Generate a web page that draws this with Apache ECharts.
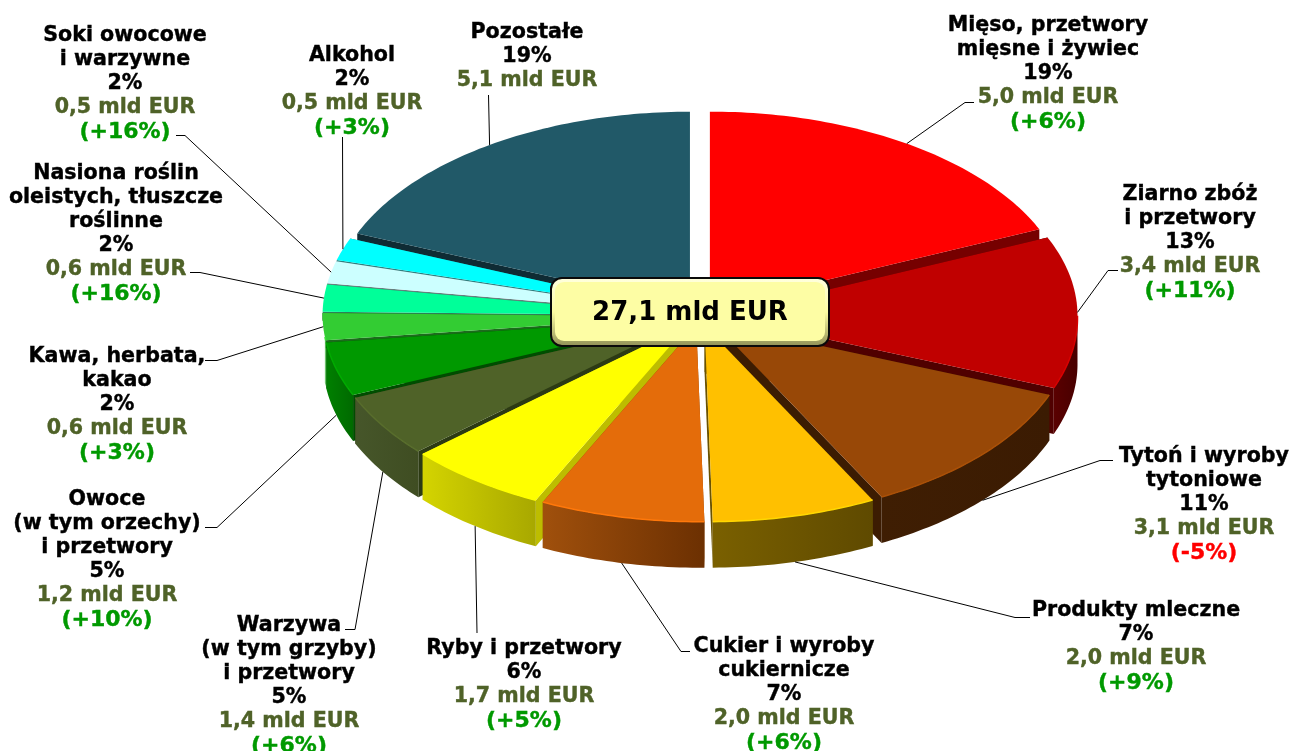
<!DOCTYPE html>
<html>
<head>
<meta charset="utf-8">
<title>Struktura eksportu</title>
<script src="https://cdn.jsdelivr.net/npm/echarts@6/dist/echarts.min.js"></script>
<style>
html, body { margin: 0; padding: 0; background: #fff; }
#chart { width: 1293px; height: 751px; }
</style>
</head>
<body>
<div id="chart"></div>
<script>
// wartosci, kolejnosc zgodnie z ruchem wskazowek zegara od gory
var categories = [
	'Mięso, przetwory\nmięsne i żywiec',
	'Ziarno zbóż\ni przetwory',
	'Tytoń i wyroby\ntytoniowe',
	'Produkty mleczne',
	'Cukier i wyroby\ncukiernicze',
	'Ryby i przetwory',
	'Warzywa\n(w tym grzyby)\ni przetwory',
	'Owoce\n(w tym orzechy)\ni przetwory',
	'Kawa, herbata,\nkakao',
	'Nasiona roślin\noleistych, tłuszcze\nroślinne',
	'Soki owocowe\ni warzywne',
	'Alkohol',
	'Pozostałe'
];
var values = [5.0, 3.4, 3.1, 2.0, 2.0, 1.7, 1.4, 1.2, 0.6, 0.6, 0.5, 0.5, 5.1];
var shares = [19, 13, 11, 7, 7, 6, 5, 5, 2, 2, 2, 2, 19];
var changes = ['+6', '+11', '-5', '+9', '+6', '+5', '+6', '+10', '+3', '+16', '+16', '+3', null];
var totalLabel = '27,1 mld EUR';

// wyglad: gora wycinka, sciana (lewo, prawo), przekroj
var topColors = ['#ff0000', '#c00000', '#984807', '#ffc000', '#e46c0a', '#ffff00', '#4f6228', '#009900', '#33cc33', '#00ff99', '#ccffff', '#00ffff', '#215968'];
var wallLeft = ['#7a0000', '#5a0000', '#3f1e03', '#7a6000', '#a0500c', '#d4d400', '#46562a', '#008000', '#2aa82a', '#00c070', '#99cccc', '#00c0c0', '#132f38'];
var wallRight = ['#7a0000', '#480000', '#3b1b02', '#5f4a00', '#6c3002', '#a8a800', '#3f4d22', '#006a00', '#2aa82a', '#00c070', '#99cccc', '#00c0c0', '#132f38'];
var cutColors = ['#760000', '#500000', '#3c1c02', '#6a5200', '#8a4506', '#bdbd00', '#2c3a14', '#004d00', '#1c6b1c', '#2f7f57', '#667f7f', '#2f7f7f', '#0f2b34'];

// pozycje opisow: srodek, gora tekstu, koniec linii odniesienia
var labelPos = [
	[1048, 14], [1190, 183], [1204, 445], [1136, 599], [784, 635], [524, 637], [289, 614],
	[107, 488], [117, 345], [116, 162], [125, 24], [352, 44], [527, 21]
];
var leaderEnds = [
	[[965, 102.5], [974, 102.5]], [[1108, 270.5], [1118, 270.5]], [[1100, 460.5], [1113, 460.5]],
	[[1015, 617.5], [1030, 617.5]], [[681, 651.5], [690, 651.5]], [[477, 633]], [[355, 629.5], [345, 629.5]],
	[[217, 527.5], [205, 527.5]], [[217, 360.5], [205, 360.5]], [[200, 272.5], [190, 272.5]],
	[[185, 135.5], [176, 135.5]], [[342.5, 137]], [[488.5, 95]]
];

var CX = 700, CY = 316, RX = 359.5, RY = 196, EX = 18, EY = 10, DROP = 46, SHEAR = 4;
var WALL_FROM = 90, WALL_TO = 264, BACK_CUT = 8;
var FONT = '"DejaVu Sans", Verdana, sans-serif';
var FONT_SIZE = 20.6, CHANGE_FONT_SIZE = 22;

var sum = values.reduce(function (a, b) { return a + b; }, 0);

function buildSlices() {
	var acc = 0;
	return values.map(function (v, i) {
		var a0 = acc / sum * 360;
		acc += v;
		var a1 = acc / sum * 360;
		return { index: i, a0: a0, a1: a1, mid: (a0 + a1) / 2 };
	});
}
var slices = buildSlices();

// przod tortu rysowany na koncu
var paintOrder = slices.slice().sort(function (a, b) {
	return Math.abs(b.mid - 180) - Math.abs(a.mid - 180);
}).map(function (s) { return s.index; });

function project(ux, uy, drop) {
	var y = CY + uy;
	var x = CX + ux + (uy > 0 ? SHEAR * uy / RY : 0);
	return [x, y + (drop || 0)];
}

function rimPoint(s, deg, drop) {
	var r = deg * Math.PI / 180, m = s.mid * Math.PI / 180;
	return project(RX * Math.sin(r) + EX * Math.sin(m), -RY * Math.cos(r) - EY * Math.cos(m), drop);
}

function apexPoint(s, drop) {
	var m = s.mid * Math.PI / 180;
	return project(EX * Math.sin(m), -EY * Math.cos(m), drop);
}

function arcPoints(s, from, to, drop) {
	var pts = [];
	var n = Math.max(2, Math.ceil(to - from));
	for (var k = 0; k <= n; k++) {
		pts.push(rimPoint(s, from + (to - from) * k / n, drop));
	}
	return pts;
}

function renderSlice(params, api) {
	var i = api.value(0);
	var s = slices[i];
	var rank = paintOrder.indexOf(i) * 10 + 1;
	var children = [];
	// po lewej z tylu sciany nie widac, zostaje tylko waski przekroj
	var cutDrop = s.mid >= WALL_TO ? BACK_CUT : DROP;

	function cut(deg) {
		children.push({
			type: 'polygon', z2: rank,
			shape: { points: [apexPoint(s, 0), rimPoint(s, deg, 0), rimPoint(s, deg, cutDrop), apexPoint(s, cutDrop)] },
			style: { fill: cutColors[i] }
		});
	}
	cut(s.a0);
	cut(s.a1);

	var w0 = Math.max(s.a0, WALL_FROM), w1 = Math.min(s.a1, WALL_TO);
	if (w1 > w0) {
		var upper = arcPoints(s, w0, w1, 0);
		var lower = arcPoints(s, w0, w1, DROP).reverse();
		children.push({
			type: 'polygon', z2: rank + 1,
			shape: { points: upper.concat(lower) },
			style: {
				// sciana ciemnieje od strony lewej do prawej
				fill: new echarts.graphic.LinearGradient(0, 0, 1, 0, [
					{ offset: 0, color: wallLeft[i] },
					{ offset: 1, color: wallRight[i] }
				])
			}
		});
	}

	children.push({
		type: 'polygon', z2: rank + 2,
		shape: { points: [apexPoint(s, 0)].concat(arcPoints(s, s.a0, s.a1, 0)) },
		style: { fill: topColors[i] }
	});
	if (w1 > w0) {
		children.push({
			type: 'polyline', z2: rank + 3,
			shape: { points: arcPoints(s, w0, w1, 0) },
			style: { fill: 'none', stroke: echarts.color.lift(topColors[i], -0.12), lineWidth: 1.5 }
		});
	}
	return { type: 'group', children: children };
}

function labelText(i) {
	var lines = categories[i].split('\n').map(function (t) { return '{n|' + t + '}'; });
	lines.push('{n|' + shares[i] + '%}');
	lines.push('{v|' + values[i].toFixed(1).replace('.', ',') + ' mld EUR}');
	if (changes[i] !== null) {
		lines.push((changes[i].charAt(0) === '-' ? '{d|(' : '{u|(') + changes[i] + '%)}');
	}
	return lines.join('\n');
}

function richPart(color, size) {
	return { fill: color, stroke: color, lineWidth: 0.4, font: 'bold ' + size + 'px ' + FONT, lineHeight: 24 };
}

function renderLabel(params, api) {
	var i = api.value(0);
	var s = slices[i];
	var drop = s.mid > WALL_FROM && s.mid < WALL_TO ? DROP : 0;
	var m = s.mid * Math.PI / 180;
	var start = project((RX + EX) * Math.sin(m), -(RY + EY) * Math.cos(m), drop);
	return {
		type: 'group',
		children: [{
			type: 'polyline',
			shape: { points: [start].concat(leaderEnds[i]) },
			style: { fill: 'none', stroke: '#000000', lineWidth: 1 }
		}, {
			type: 'text',
			style: {
				x: labelPos[i][0], y: labelPos[i][1],
				text: labelText(i),
				align: 'center', verticalAlign: 'top',
				rich: {
					n: richPart('#000000', FONT_SIZE),
					v: richPart('#4f6228', FONT_SIZE),
					u: richPart('#009900', CHANGE_FONT_SIZE),
					d: richPart('#ff0000', CHANGE_FONT_SIZE)
				}
			}
		}]
	};
}

var sliceIndex = paintOrder.map(function (i) { return [i]; });

var chart = echarts.init(document.getElementById('chart'), null, { renderer: 'canvas' });
chart.setOption({
	backgroundColor: '#ffffff',
	animation: false,
	series: [{
		type: 'custom',
		coordinateSystem: 'none',
		silent: true,
		z: 1,
		encode: { value: 0 },
		data: sliceIndex,
		renderItem: renderSlice
	}, {
		type: 'custom',
		coordinateSystem: 'none',
		silent: true,
		z: 2,
		data: slices.map(function (s) { return [s.index]; }),
		renderItem: renderLabel
	}],
	graphic: [{
		type: 'rect', z: 100, silent: true,
		shape: { x: 551, y: 278, width: 278, height: 68, r: 11 },
		style: {
			stroke: '#0a0a0a', lineWidth: 2,
			fill: new echarts.graphic.LinearGradient(0, 0, 0, 1, [
				{ offset: 0, color: '#ffffe0' },
				{ offset: 0.5, color: '#fdfda2' },
				{ offset: 1, color: '#8f8f55' }
			])
		}
	}, {
		type: 'rect', z: 101, silent: true,
		shape: { x: 555, y: 282, width: 270, height: 59, r: 9 },
		style: { fill: '#fdfda4' }
	}, {
		type: 'text', z: 102, silent: true,
		style: {
			x: 690, y: 313, text: totalLabel, align: 'center', verticalAlign: 'middle',
			font: 'bold 26px ' + FONT, fill: '#000000'
		}
	}]
});
</script>
</body>
</html>
